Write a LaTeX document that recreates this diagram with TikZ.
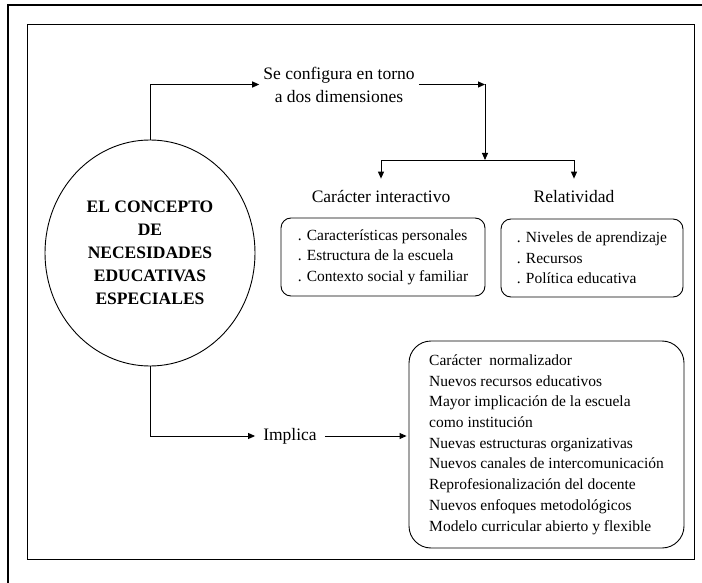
\documentclass[tikz,border=0pt]{standalone}
\usepackage{fontspec}
\setmainfont{Liberation Serif}
\usetikzlibrary{shapes.geometric,positioning,calc,arrows.meta}

\tikzset{
  lbl/.style={inner sep=0pt, align=center, font=\fontsize{17.5}{23}\selectfont},
  listbox/.style={draw, line width=0.9pt, rounded corners=10pt, align=left, font=\fontsize{15.5}{20.4}\selectfont},
  arr/.style={line width=0.9pt, -{Triangle[length=7pt,width=6pt]}}
}

\begin{document}
\begin{tikzpicture}[x=1pt, y=-1pt]
  \useasboundingbox (0,0) rectangle (702,583);

  % Frames
  \draw[line width=2.2pt] (8,583) -- (8,5) -- (702,5);
  \draw[line width=1pt] (27.5,25) rectangle (694,559);

  % Central concept
  \node[draw, ellipse, line width=0.9pt, minimum width=210pt, minimum height=226pt, align=center,
        font=\fontsize{17.5}{23}\selectfont\bfseries] (nee) at (150,253)
        {EL CONCEPTO\\DE\\NECESIDADES\\EDUCATIVAS\\ESPECIALES};

  % Upper branch
  \node[lbl, inner xsep=4pt] (conf) at (339,84.5) {Se configura en torno\\a dos dimensiones};
  \draw[arr] (nee.north) |- (conf.west);
  \coordinate (fork) at (485,160);
  \coordinate (turn) at (conf.east -| fork);
  \draw[arr] (conf.east) -- (turn);
  \draw[arr] (turn) -- (fork);

  % Dimensions
  \node[lbl] (inter) at (381,197) {Carácter interactivo};
  \node[lbl] (relat) at (574,197) {Relatividad};
  \draw[arr, shorten >=12pt] (fork) -| (inter.north);
  \draw[arr, shorten >=12pt] (fork) -| (relat.north);

  \node[listbox, minimum width=204pt, minimum height=78pt] (rasgos) at (383,257)
        {. Características personales\\. Estructura de la escuela\\. Contexto social y familiar};
  \node[listbox, minimum width=182pt, minimum height=78pt] (niveles) at (592,258)
        {. Niveles de aprendizaje\\. Recursos\\. Política educativa};

  % Lower branch
  \node[lbl, inner xsep=8pt] (impl) at (290,436) {Implica};
  \draw[arr] (nee.south) |- (impl.west);
  \node[listbox, rounded corners=22pt, minimum width=275pt, minimum height=207pt,
        font=\fontsize{15.5}{20.7}\selectfont] (cambios) at (546.5,444.5)
        {Carácter\ \ normalizador\\Nuevos recursos educativos\\Mayor implicación de la escuela\\como institución\\Nuevas estructuras organizativas\\Nuevos canales de intercomunicación\\Reprofesionalización del docente\\Nuevos enfoques metodológicos\\Modelo curricular abierto y flexible};
  \draw[arr, shorten >=2pt] (impl.east) -- (impl.east -| cambios.west);
\end{tikzpicture}
\end{document}
